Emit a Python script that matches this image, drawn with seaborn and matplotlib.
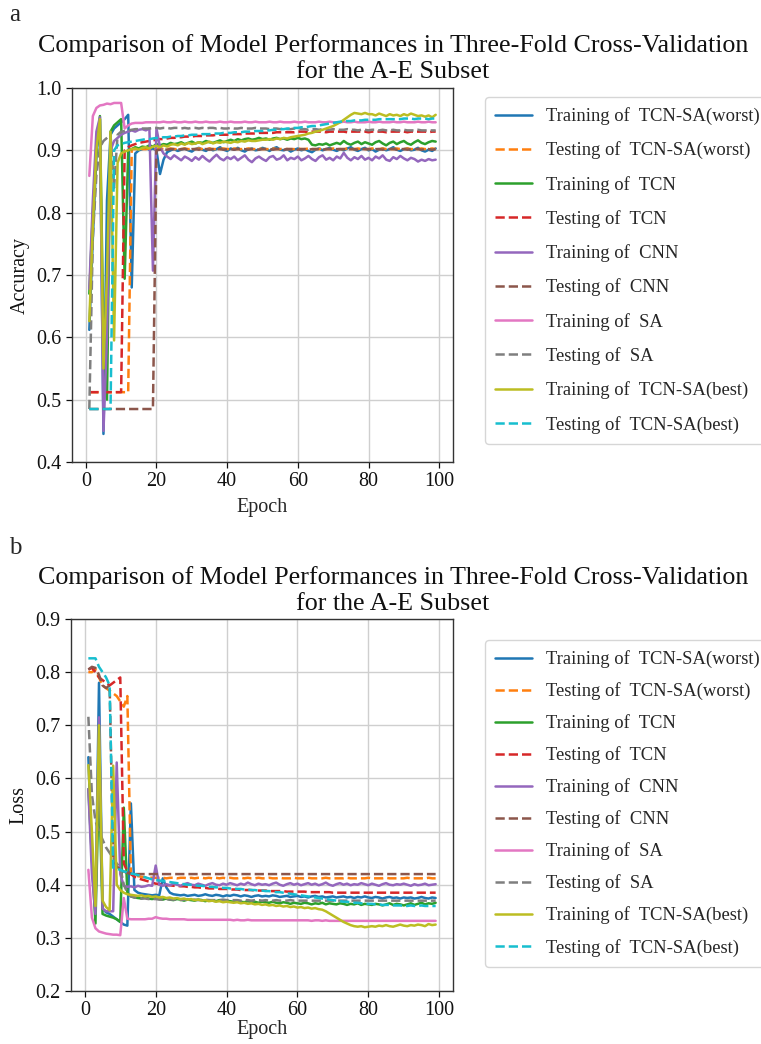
import numpy as np
import matplotlib
matplotlib.use("Agg")
import matplotlib.pyplot as plt
import seaborn as sns

# ---------------- accuracy per epoch ----------------
acc_tcnsa_worst_train = [
    0.612, 0.760, 0.890, 0.950, 0.445, 0.820, 0.925, 0.935, 0.940, 0.945,
    0.950, 0.957, 0.680, 0.895, 0.900, 0.902, 0.904, 0.901, 0.903, 0.900,
    0.862, 0.885, 0.897, 0.900, 0.902, 0.899, 0.901, 0.903, 0.900, 0.898,
    0.902, 0.904, 0.901, 0.899, 0.903, 0.900, 0.902, 0.905, 0.901, 0.899,
    0.903, 0.901, 0.904, 0.900, 0.898, 0.902, 0.903, 0.900, 0.901, 0.904,
    0.902, 0.899, 0.903, 0.905, 0.901, 0.900, 0.902, 0.898, 0.901, 0.903,
    0.900, 0.902, 0.899, 0.897, 0.901, 0.903, 0.900, 0.902, 0.904, 0.901,
    0.899, 0.902, 0.900, 0.903, 0.905, 0.901, 0.899, 0.902, 0.904, 0.900,
    0.902, 0.898, 0.901, 0.903, 0.900, 0.902, 0.905, 0.901, 0.899, 0.902,
    0.903, 0.900, 0.901, 0.904, 0.900, 0.898, 0.901, 0.899, 0.903]
acc_tcnsa_worst_test = [
    0.512, 0.512, 0.512, 0.512, 0.512, 0.512, 0.512, 0.512, 0.512, 0.512,
    0.512, 0.512, 0.902, 0.902, 0.903, 0.902, 0.902, 0.903, 0.902, 0.902,
    0.903, 0.902, 0.902, 0.903, 0.902, 0.902, 0.902, 0.903, 0.902, 0.902,
    0.902, 0.903, 0.902, 0.902, 0.903, 0.902, 0.902, 0.902, 0.903, 0.902,
    0.902, 0.903, 0.902, 0.902, 0.902, 0.903, 0.902, 0.902, 0.903, 0.902,
    0.902, 0.902, 0.903, 0.902, 0.902, 0.903, 0.902, 0.902, 0.902, 0.903,
    0.902, 0.902, 0.903, 0.902, 0.902, 0.902, 0.903, 0.902, 0.902, 0.903,
    0.902, 0.902, 0.902, 0.903, 0.902, 0.902, 0.903, 0.902, 0.902, 0.902,
    0.903, 0.902, 0.902, 0.903, 0.902, 0.902, 0.902, 0.903, 0.902, 0.902,
    0.903, 0.902, 0.902, 0.902, 0.903, 0.902, 0.902, 0.903, 0.902]
acc_tcn_train = [
    0.670, 0.800, 0.900, 0.955, 0.600, 0.500, 0.930, 0.940, 0.945, 0.950,
    0.694, 0.900, 0.902, 0.905, 0.903, 0.906, 0.905, 0.908, 0.906, 0.910,
    0.908, 0.910, 0.909, 0.912, 0.910, 0.911, 0.913, 0.910, 0.912, 0.914,
    0.911, 0.913, 0.912, 0.915, 0.913, 0.912, 0.914, 0.916, 0.913, 0.915,
    0.917, 0.915, 0.918, 0.916, 0.918, 0.919, 0.917, 0.918, 0.920, 0.918,
    0.919, 0.917, 0.919, 0.920, 0.918, 0.919, 0.917, 0.919, 0.918, 0.920,
    0.918, 0.919, 0.917, 0.909, 0.908, 0.910, 0.909, 0.911, 0.908, 0.910,
    0.912, 0.910, 0.915, 0.911, 0.909, 0.912, 0.914, 0.910, 0.913, 0.911,
    0.909, 0.913, 0.915, 0.911, 0.908, 0.912, 0.914, 0.910, 0.913, 0.915,
    0.911, 0.909, 0.913, 0.916, 0.912, 0.910, 0.913, 0.915, 0.914]
acc_tcn_test = [
    0.512, 0.512, 0.512, 0.512, 0.512, 0.512, 0.512, 0.512, 0.512, 0.512,
    0.900, 0.905, 0.908, 0.910, 0.912, 0.913, 0.914, 0.915, 0.916, 0.917,
    0.918, 0.918, 0.919, 0.920, 0.920, 0.921, 0.921, 0.922, 0.922, 0.922,
    0.923, 0.923, 0.923, 0.924, 0.924, 0.924, 0.925, 0.925, 0.925, 0.925,
    0.926, 0.926, 0.926, 0.926, 0.927, 0.927, 0.927, 0.927, 0.928, 0.928,
    0.928, 0.928, 0.928, 0.929, 0.929, 0.929, 0.929, 0.929, 0.929, 0.930,
    0.930, 0.930, 0.929, 0.930, 0.930, 0.930, 0.930, 0.929, 0.930, 0.930,
    0.930, 0.930, 0.930, 0.929, 0.930, 0.930, 0.930, 0.930, 0.930, 0.929,
    0.930, 0.930, 0.930, 0.930, 0.929, 0.930, 0.930, 0.930, 0.930, 0.930,
    0.929, 0.930, 0.930, 0.930, 0.930, 0.930, 0.929, 0.930, 0.930]
acc_cnn_train = [
    0.678, 0.820, 0.930, 0.953, 0.450, 0.600, 0.900, 0.915, 0.920, 0.925,
    0.928, 0.930, 0.932, 0.930, 0.933, 0.934, 0.932, 0.935, 0.707, 0.935,
    0.905, 0.895, 0.890, 0.886, 0.892, 0.888, 0.884, 0.890, 0.887, 0.883,
    0.889, 0.885, 0.891, 0.886, 0.882, 0.888, 0.893, 0.887, 0.884, 0.889,
    0.886, 0.890, 0.884, 0.888, 0.892, 0.885, 0.881, 0.887, 0.890, 0.886,
    0.883, 0.889, 0.891, 0.885, 0.887, 0.892, 0.884, 0.888, 0.886, 0.890,
    0.884, 0.887, 0.891, 0.886, 0.883, 0.889, 0.892, 0.885, 0.888, 0.884,
    0.890, 0.887, 0.896, 0.888, 0.884, 0.889, 0.886, 0.891, 0.885, 0.888,
    0.884, 0.890, 0.887, 0.892, 0.885, 0.883, 0.889, 0.886, 0.891, 0.887,
    0.884, 0.888, 0.886, 0.882, 0.885, 0.883, 0.886, 0.884, 0.885]
acc_cnn_test = [
    0.485, 0.485, 0.485, 0.485, 0.485, 0.485, 0.485, 0.485, 0.485, 0.485,
    0.485, 0.485, 0.485, 0.485, 0.485, 0.485, 0.485, 0.485, 0.485, 0.900,
    0.901, 0.902, 0.901, 0.902, 0.902, 0.901, 0.902, 0.902, 0.901, 0.902,
    0.902, 0.901, 0.902, 0.902, 0.901, 0.902, 0.902, 0.902, 0.901, 0.902,
    0.902, 0.901, 0.902, 0.902, 0.902, 0.901, 0.902, 0.902, 0.901, 0.902,
    0.902, 0.902, 0.901, 0.902, 0.902, 0.901, 0.902, 0.902, 0.902, 0.901,
    0.902, 0.902, 0.901, 0.902, 0.902, 0.902, 0.901, 0.902, 0.902, 0.901,
    0.902, 0.902, 0.902, 0.901, 0.902, 0.902, 0.901, 0.902, 0.902, 0.902,
    0.901, 0.902, 0.902, 0.901, 0.902, 0.902, 0.902, 0.901, 0.902, 0.902,
    0.901, 0.902, 0.902, 0.902, 0.901, 0.902, 0.902, 0.901, 0.902]
acc_sa_train = [
    0.859, 0.955, 0.968, 0.972, 0.973, 0.975, 0.974, 0.976, 0.976, 0.976,
    0.935, 0.940, 0.943, 0.944, 0.944, 0.944, 0.945, 0.945, 0.945, 0.945,
    0.945, 0.946, 0.945, 0.945, 0.946, 0.945, 0.945, 0.946, 0.945, 0.945,
    0.946, 0.945, 0.945, 0.946, 0.945, 0.945, 0.945, 0.946, 0.945, 0.945,
    0.946, 0.945, 0.945, 0.945, 0.946, 0.945, 0.945, 0.946, 0.945, 0.945,
    0.945, 0.946, 0.945, 0.945, 0.946, 0.945, 0.945, 0.945, 0.946, 0.945,
    0.945, 0.946, 0.945, 0.945, 0.945, 0.946, 0.945, 0.945, 0.946, 0.945,
    0.945, 0.945, 0.946, 0.945, 0.945, 0.946, 0.945, 0.945, 0.945, 0.946,
    0.945, 0.945, 0.946, 0.945, 0.945, 0.945, 0.946, 0.945, 0.945, 0.946,
    0.945, 0.945, 0.945, 0.946, 0.945, 0.945, 0.946, 0.945, 0.945]
acc_sa_test = [
    0.485, 0.760, 0.860, 0.905, 0.915, 0.920, 0.925, 0.840, 0.925, 0.930,
    0.931, 0.932, 0.933, 0.934, 0.934, 0.935, 0.935, 0.935, 0.936, 0.936,
    0.935, 0.936, 0.936, 0.935, 0.936, 0.936, 0.935, 0.936, 0.935, 0.936,
    0.936, 0.935, 0.936, 0.935, 0.936, 0.936, 0.935, 0.936, 0.935, 0.935,
    0.936, 0.935, 0.935, 0.936, 0.935, 0.935, 0.935, 0.936, 0.935, 0.935,
    0.935, 0.934, 0.935, 0.935, 0.934, 0.935, 0.934, 0.934, 0.935, 0.934,
    0.934, 0.934, 0.933, 0.934, 0.934, 0.933, 0.934, 0.933, 0.933, 0.934,
    0.933, 0.933, 0.933, 0.934, 0.933, 0.933, 0.932, 0.933, 0.933, 0.932,
    0.933, 0.933, 0.932, 0.933, 0.932, 0.932, 0.933, 0.932, 0.932, 0.933,
    0.932, 0.932, 0.932, 0.933, 0.932, 0.932, 0.932, 0.932, 0.932]
acc_tcnsa_best_train = [
    0.626, 0.780, 0.900, 0.950, 0.550, 0.700, 0.930, 0.595, 0.880, 0.895,
    0.898, 0.900, 0.902, 0.903, 0.901, 0.904, 0.905, 0.903, 0.906, 0.907,
    0.905, 0.908, 0.906, 0.909, 0.910, 0.908, 0.911, 0.909, 0.912, 0.910,
    0.911, 0.913, 0.910, 0.912, 0.914, 0.911, 0.913, 0.912, 0.914, 0.913,
    0.912, 0.914, 0.913, 0.915, 0.914, 0.916, 0.915, 0.915, 0.916, 0.917,
    0.917, 0.918, 0.917, 0.919, 0.918, 0.920, 0.919, 0.921, 0.922, 0.923,
    0.924, 0.925, 0.927, 0.928, 0.930, 0.931, 0.933, 0.935, 0.937, 0.939,
    0.942, 0.945, 0.949, 0.953, 0.957, 0.960, 0.959, 0.958, 0.960, 0.958,
    0.958, 0.956, 0.959, 0.957, 0.955, 0.958, 0.956, 0.957, 0.955, 0.958,
    0.956, 0.959, 0.957, 0.955, 0.956, 0.954, 0.956, 0.953, 0.957]
acc_tcnsa_best_test = [
    0.485, 0.485, 0.485, 0.485, 0.485, 0.485, 0.485, 0.900, 0.908, 0.910,
    0.912, 0.913, 0.914, 0.915, 0.916, 0.917, 0.918, 0.918, 0.919, 0.920,
    0.920, 0.921, 0.921, 0.922, 0.922, 0.923, 0.923, 0.924, 0.924, 0.925,
    0.925, 0.925, 0.926, 0.926, 0.926, 0.927, 0.927, 0.927, 0.928, 0.928,
    0.928, 0.929, 0.929, 0.929, 0.930, 0.930, 0.930, 0.931, 0.931, 0.931,
    0.932, 0.932, 0.933, 0.933, 0.934, 0.934, 0.935, 0.935, 0.936, 0.936,
    0.937, 0.937, 0.938, 0.939, 0.939, 0.940, 0.941, 0.942, 0.943, 0.944,
    0.945, 0.946, 0.946, 0.947, 0.947, 0.948, 0.948, 0.948, 0.949, 0.949,
    0.949, 0.949, 0.950, 0.950, 0.950, 0.950, 0.950, 0.950, 0.950, 0.951,
    0.951, 0.951, 0.950, 0.951, 0.951, 0.951, 0.950, 0.951, 0.951]

# ---------------- loss per epoch ----------------
loss_tcnsa_worst_train = [
    0.640, 0.450, 0.350, 0.780, 0.355, 0.348, 0.345, 0.340, 0.335, 0.330,
    0.325, 0.323, 0.553, 0.390, 0.385, 0.383, 0.382, 0.381, 0.380, 0.381,
    0.380, 0.412, 0.395, 0.385, 0.382, 0.381, 0.380, 0.381, 0.379, 0.380,
    0.381, 0.379, 0.380, 0.382, 0.380, 0.379, 0.381, 0.380, 0.378, 0.380,
    0.379, 0.381, 0.380, 0.378, 0.380, 0.379, 0.377, 0.379, 0.380, 0.378,
    0.379, 0.378, 0.380, 0.379, 0.377, 0.378, 0.379, 0.377, 0.378, 0.379,
    0.377, 0.378, 0.376, 0.378, 0.379, 0.377, 0.378, 0.376, 0.377, 0.378,
    0.376, 0.377, 0.378, 0.376, 0.377, 0.375, 0.377, 0.376, 0.378, 0.376,
    0.375, 0.377, 0.376, 0.374, 0.376, 0.377, 0.375, 0.376, 0.374, 0.376,
    0.375, 0.376, 0.374, 0.375, 0.377, 0.375, 0.374, 0.376, 0.375]
loss_tcnsa_worst_test = [
    0.800, 0.800, 0.805, 0.790, 0.775, 0.770, 0.765, 0.760, 0.755, 0.745,
    0.735, 0.755, 0.420, 0.418, 0.416, 0.415, 0.414, 0.414, 0.413, 0.413,
    0.413, 0.413, 0.412, 0.413, 0.413, 0.412, 0.413, 0.413, 0.412, 0.413,
    0.412, 0.413, 0.413, 0.412, 0.413, 0.412, 0.413, 0.412, 0.413, 0.412,
    0.413, 0.412, 0.412, 0.413, 0.412, 0.413, 0.412, 0.412, 0.413, 0.412,
    0.412, 0.413, 0.412, 0.412, 0.413, 0.412, 0.412, 0.412, 0.413, 0.412,
    0.412, 0.412, 0.413, 0.412, 0.412, 0.412, 0.412, 0.413, 0.412, 0.412,
    0.412, 0.412, 0.412, 0.413, 0.412, 0.412, 0.412, 0.412, 0.412, 0.413,
    0.412, 0.412, 0.412, 0.412, 0.413, 0.412, 0.412, 0.412, 0.412, 0.412,
    0.413, 0.412, 0.412, 0.412, 0.412, 0.412, 0.413, 0.412, 0.412]
loss_tcn_train = [
    0.580, 0.450, 0.327, 0.600, 0.345, 0.342, 0.340, 0.338, 0.335, 0.330,
    0.545, 0.385, 0.378, 0.376, 0.375, 0.374, 0.376, 0.374, 0.373, 0.375,
    0.373, 0.372, 0.374, 0.372, 0.371, 0.373, 0.372, 0.370, 0.372, 0.371,
    0.370, 0.372, 0.371, 0.369, 0.371, 0.370, 0.369, 0.371, 0.368, 0.370,
    0.369, 0.368, 0.370, 0.368, 0.367, 0.369, 0.367, 0.368, 0.366, 0.368,
    0.367, 0.366, 0.368, 0.366, 0.365, 0.367, 0.366, 0.364, 0.366, 0.365,
    0.364, 0.366, 0.365, 0.363, 0.365, 0.364, 0.366, 0.363, 0.365, 0.364,
    0.363, 0.365, 0.364, 0.362, 0.364, 0.363, 0.365, 0.362, 0.364, 0.363,
    0.362, 0.364, 0.363, 0.361, 0.363, 0.365, 0.362, 0.364, 0.363, 0.361,
    0.363, 0.365, 0.362, 0.364, 0.366, 0.363, 0.365, 0.364, 0.366]
loss_tcn_test = [
    0.805, 0.808, 0.800, 0.790, 0.785, 0.780, 0.775, 0.780, 0.785, 0.790,
    0.440, 0.425, 0.420, 0.415, 0.412, 0.410, 0.408, 0.406, 0.404, 0.402,
    0.401, 0.400, 0.399, 0.399, 0.398, 0.398, 0.397, 0.397, 0.396, 0.396,
    0.395, 0.395, 0.394, 0.394, 0.393, 0.393, 0.393, 0.392, 0.392, 0.392,
    0.391, 0.391, 0.391, 0.390, 0.390, 0.390, 0.390, 0.389, 0.389, 0.389,
    0.389, 0.388, 0.388, 0.388, 0.388, 0.388, 0.387, 0.387, 0.387, 0.387,
    0.387, 0.387, 0.386, 0.386, 0.386, 0.386, 0.386, 0.386, 0.386, 0.385,
    0.385, 0.385, 0.385, 0.385, 0.385, 0.385, 0.385, 0.385, 0.385, 0.385,
    0.385, 0.385, 0.385, 0.385, 0.385, 0.385, 0.385, 0.385, 0.385, 0.385,
    0.385, 0.385, 0.385, 0.385, 0.385, 0.385, 0.385, 0.385, 0.385]
loss_cnn_train = [
    0.580, 0.420, 0.345, 0.715, 0.355, 0.350, 0.350, 0.350, 0.630, 0.420,
    0.398, 0.396, 0.397, 0.395, 0.398, 0.396, 0.397, 0.399, 0.398, 0.436,
    0.400, 0.398, 0.401, 0.399, 0.402, 0.400, 0.398, 0.401, 0.403, 0.400,
    0.399, 0.402, 0.400, 0.398, 0.401, 0.403, 0.400, 0.399, 0.402, 0.400,
    0.403, 0.401, 0.399, 0.402, 0.400, 0.404, 0.401, 0.399, 0.402, 0.400,
    0.401, 0.399, 0.402, 0.404, 0.400, 0.398, 0.401, 0.403, 0.400, 0.402,
    0.399, 0.401, 0.403, 0.400, 0.402, 0.399, 0.401, 0.404, 0.400, 0.398,
    0.401, 0.403, 0.400, 0.402, 0.399, 0.401, 0.400, 0.403, 0.401, 0.399,
    0.402, 0.400, 0.398, 0.401, 0.403, 0.400, 0.399, 0.401, 0.400, 0.402,
    0.400, 0.398, 0.401, 0.399, 0.400, 0.402, 0.399, 0.400, 0.401]
loss_cnn_test = [
    0.805, 0.810, 0.808, 0.795, 0.775, 0.770, 0.775, 0.450, 0.435, 0.428,
    0.425, 0.422, 0.421, 0.420, 0.420, 0.420, 0.420, 0.420, 0.420, 0.420,
    0.420, 0.420, 0.420, 0.420, 0.420, 0.420, 0.420, 0.420, 0.420, 0.420,
    0.420, 0.420, 0.420, 0.420, 0.420, 0.420, 0.420, 0.420, 0.420, 0.420,
    0.420, 0.420, 0.420, 0.420, 0.420, 0.420, 0.420, 0.420, 0.420, 0.420,
    0.420, 0.420, 0.420, 0.420, 0.420, 0.420, 0.420, 0.420, 0.420, 0.420,
    0.420, 0.420, 0.420, 0.420, 0.420, 0.420, 0.420, 0.420, 0.420, 0.420,
    0.420, 0.420, 0.420, 0.420, 0.420, 0.420, 0.420, 0.420, 0.420, 0.420,
    0.420, 0.420, 0.420, 0.420, 0.420, 0.420, 0.420, 0.420, 0.420, 0.420,
    0.420, 0.420, 0.420, 0.420, 0.420, 0.420, 0.420, 0.420, 0.420]
loss_sa_train = [
    0.428, 0.338, 0.318, 0.312, 0.310, 0.308, 0.307, 0.306, 0.306, 0.305,
    0.375, 0.336, 0.335, 0.335, 0.335, 0.335, 0.335, 0.336, 0.336, 0.339,
    0.337, 0.336, 0.336, 0.335, 0.335, 0.335, 0.335, 0.335, 0.334, 0.334,
    0.334, 0.334, 0.334, 0.334, 0.334, 0.334, 0.334, 0.334, 0.334, 0.334,
    0.334, 0.333, 0.334, 0.333, 0.333, 0.334, 0.333, 0.333, 0.333, 0.333,
    0.333, 0.333, 0.333, 0.333, 0.333, 0.333, 0.333, 0.333, 0.333, 0.333,
    0.333, 0.333, 0.333, 0.332, 0.333, 0.333, 0.332, 0.333, 0.332, 0.332,
    0.332, 0.332, 0.332, 0.332, 0.332, 0.332, 0.332, 0.332, 0.332, 0.332,
    0.332, 0.332, 0.332, 0.332, 0.332, 0.332, 0.332, 0.332, 0.332, 0.332,
    0.332, 0.332, 0.332, 0.332, 0.332, 0.332, 0.332, 0.332, 0.332]
loss_sa_test = [
    0.716, 0.570, 0.520, 0.500, 0.485, 0.470, 0.460, 0.450, 0.440, 0.432,
    0.400, 0.385, 0.378, 0.376, 0.375, 0.374, 0.374, 0.373, 0.373, 0.373,
    0.372, 0.372, 0.373, 0.372, 0.372, 0.372, 0.371, 0.372, 0.372, 0.371,
    0.372, 0.371, 0.371, 0.372, 0.371, 0.371, 0.371, 0.371, 0.372, 0.371,
    0.371, 0.371, 0.371, 0.370, 0.371, 0.371, 0.370, 0.371, 0.371, 0.370,
    0.371, 0.370, 0.370, 0.371, 0.370, 0.370, 0.370, 0.371, 0.370, 0.370,
    0.370, 0.370, 0.370, 0.370, 0.370, 0.370, 0.370, 0.370, 0.370, 0.370,
    0.370, 0.370, 0.370, 0.370, 0.370, 0.370, 0.370, 0.370, 0.370, 0.370,
    0.370, 0.370, 0.370, 0.370, 0.370, 0.370, 0.370, 0.370, 0.370, 0.370,
    0.370, 0.370, 0.370, 0.370, 0.370, 0.370, 0.370, 0.370, 0.370]
loss_tcnsa_best_train = [
    0.625, 0.500, 0.360, 0.700, 0.370, 0.358, 0.352, 0.624, 0.400, 0.390,
    0.385, 0.382, 0.381, 0.380, 0.379, 0.380, 0.378, 0.379, 0.377, 0.378,
    0.376, 0.377, 0.375, 0.376, 0.374, 0.375, 0.373, 0.374, 0.372, 0.373,
    0.371, 0.372, 0.370, 0.371, 0.369, 0.370, 0.368, 0.369, 0.367, 0.368,
    0.367, 0.366, 0.367, 0.365, 0.366, 0.364, 0.365, 0.363, 0.364, 0.362,
    0.363, 0.361, 0.362, 0.360, 0.361, 0.359, 0.360, 0.358, 0.359, 0.357,
    0.358, 0.356, 0.357, 0.355, 0.356, 0.354, 0.353, 0.350, 0.346, 0.342,
    0.338, 0.334, 0.330, 0.327, 0.324, 0.322, 0.321, 0.322, 0.320, 0.321,
    0.322, 0.321, 0.323, 0.322, 0.324, 0.322, 0.321, 0.323, 0.325, 0.323,
    0.322, 0.324, 0.323, 0.325, 0.324, 0.322, 0.326, 0.324, 0.325]
loss_tcnsa_best_test = [
    0.826, 0.826, 0.826, 0.810, 0.800, 0.790, 0.775, 0.432, 0.430, 0.428,
    0.425, 0.423, 0.421, 0.420, 0.418, 0.416, 0.414, 0.412, 0.410, 0.409,
    0.408, 0.407, 0.406, 0.405, 0.404, 0.403, 0.402, 0.401, 0.400, 0.400,
    0.399, 0.398, 0.398, 0.397, 0.396, 0.396, 0.395, 0.395, 0.394, 0.394,
    0.393, 0.393, 0.392, 0.392, 0.391, 0.391, 0.390, 0.390, 0.389, 0.389,
    0.388, 0.388, 0.387, 0.386, 0.386, 0.385, 0.384, 0.383, 0.382, 0.381,
    0.380, 0.379, 0.378, 0.377, 0.376, 0.375, 0.374, 0.373, 0.372, 0.371,
    0.370, 0.369, 0.368, 0.368, 0.367, 0.366, 0.366, 0.365, 0.365, 0.364,
    0.364, 0.363, 0.363, 0.362, 0.362, 0.362, 0.361, 0.361, 0.361, 0.360,
    0.360, 0.361, 0.360, 0.360, 0.361, 0.360, 0.360, 0.360, 0.360]

series_labels = [
    "Training of  TCN-SA(worst)", "Testing of  TCN-SA(worst)",
    "Training of  TCN", "Testing of  TCN",
    "Training of  CNN", "Testing of  CNN",
    "Training of  SA", "Testing of  SA",
    "Training of  TCN-SA(best)", "Testing of  TCN-SA(best)",
]
acc_series = [acc_tcnsa_worst_train, acc_tcnsa_worst_test, acc_tcn_train, acc_tcn_test,
              acc_cnn_train, acc_cnn_test, acc_sa_train, acc_sa_test,
              acc_tcnsa_best_train, acc_tcnsa_best_test]
loss_series = [loss_tcnsa_worst_train, loss_tcnsa_worst_test, loss_tcn_train, loss_tcn_test,
               loss_cnn_train, loss_cnn_test, loss_sa_train, loss_sa_test,
               loss_tcnsa_best_train, loss_tcnsa_best_test]

title_lines = ["Comparison of Model Performances in Three-Fold Cross-Validation",
               "for the A-E Subset"]

# ---------------- style ----------------
sns.set_style("ticks", {"axes.grid": True, "grid.color": "#cfcfcf",
                        "axes.edgecolor": "#333333"})
plt.rcParams["font.family"] = ["Liberation Serif", "DejaVu Serif"]

palette = sns.color_palette("tab10", 10)
styles = ["-", "--"] * 5

W, H = 761, 1044
fig = plt.figure(figsize=(W / 100, H / 100), dpi=100)


def px_axes(left, top, right, bottom):
    return fig.add_axes([left / W, 1 - bottom / H, (right - left) / W, (bottom - top) / H])


ax_a = px_axes(72, 88, 453, 462)
ax_b = px_axes(71, 619, 453, 991)


def draw(ax, data, ylabel, ylim, yticks, legend_top, xlabelpad, spacing):
    for vals, lab, col, ls in zip(data, series_labels, palette, styles):
        ep = np.arange(1, len(vals) + 1)
        sns.lineplot(x=ep, y=vals, ax=ax, color=col, linestyle=ls,
                     linewidth=1.8, label=lab)
    ax.set_ylim(*ylim)
    ax.set_yticks(yticks)
    ax.set_xticks([0, 20, 40, 60, 80, 100])
    ax.tick_params(labelsize=14.5, length=4, width=0.9, colors="#111111")
    ax.grid(True, color="#cfcfcf", linewidth=1.0)
    ax.set_xlabel("Epoch", fontsize=14.5, labelpad=xlabelpad)
    ax.set_ylabel("", fontsize=14.5)
    ax.text(-0.135, 0.5, ylabel, transform=ax.transAxes, rotation=90,
            ha="center", va="center", fontsize=14.5, color="#111111")
    for sp in ax.spines.values():
        sp.set_visible(True)
        sp.set_color("#333333")
        sp.set_linewidth(1.0)
    ax.legend(loc="upper left", bbox_to_anchor=(485 / W, 1 - legend_top / H),
              bbox_transform=fig.transFigure, borderaxespad=0.0,
              fontsize=13.4, labelspacing=spacing,
              handlelength=2.0, handletextpad=0.75, borderpad=0.55,
              frameon=True, edgecolor="#cccccc", fancybox=True)


draw(ax_a, acc_series, "Accuracy", (0.4, 1.0),
     np.round(np.arange(0.4, 1.01, 0.1), 1), 97, 5, 0.88)
draw(ax_b, loss_series, "Loss", (0.2, 0.9),
     np.round(np.arange(0.2, 0.91, 0.1), 1), 640, 0, 0.76)

for y1 in (46, 578):
    fig.text(393 / W, 1 - y1 / H, title_lines[0], ha="center", va="center",
             fontsize=18.7, color="#111111")
    fig.text(393 / W, 1 - (y1 + 26) / H, title_lines[1], ha="center", va="center",
             fontsize=18.7, color="#111111")
fig.text(15 / W, 1 - 15 / H, "a", ha="center", va="center", fontsize=18)
fig.text(15 / W, 1 - 548 / H, "b", ha="center", va="center", fontsize=18)

fig.savefig("out.png", dpi=100)
